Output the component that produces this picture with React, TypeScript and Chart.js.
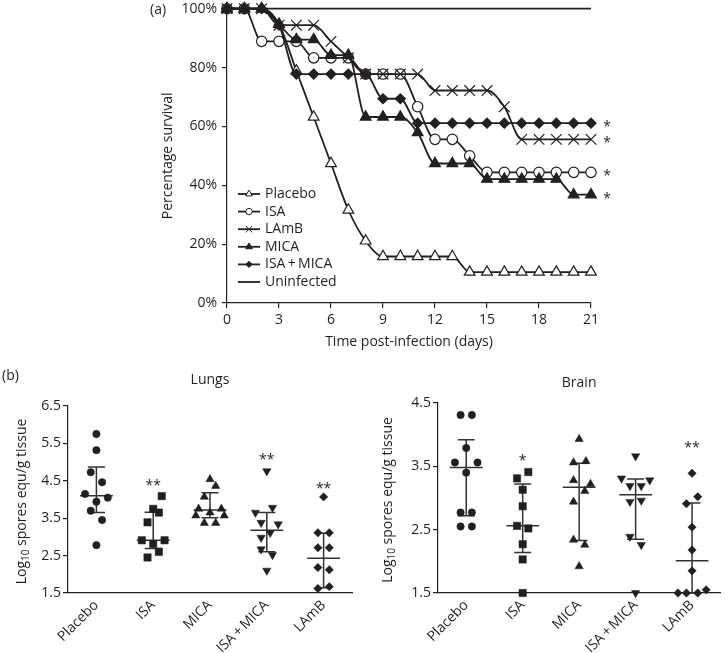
import React, { useEffect, useRef } from 'react';
import { Chart, registerables } from 'chart.js';

Chart.register(...registerables);

const FONT = '"Open Sans", "Noto Sans", sans-serif';
const INK = '#231f20';

// ---------------- (a) survival ----------------
const days = [0, 1, 2, 3, 4, 5, 6, 7, 8, 9, 10, 11, 12, 13, 14, 15, 16, 17, 18, 19, 20, 21];
const dayTicks = [0, 3, 6, 9, 12, 15, 18, 21];
const percentTicks = [0, 20, 40, 60, 80, 100];
const placeboSurvival = [100, 100, 100, 94.7, 78.9, 63.2, 47.4, 31.6, 21.1, 15.8, 15.8, 15.8, 15.8, 15.8, 10.5, 10.5, 10.5, 10.5, 10.5, 10.5, 10.5, 10.5];
const isaSurvival = [100, 100, 88.9, 88.9, 88.9, 83.3, 83.3, 83.3, 77.8, 77.8, 77.8, 66.7, 55.6, 55.6, 50, 44.4, 44.4, 44.4, 44.4, 44.4, 44.4, 44.4];
const lambSurvival = [100, 100, 100, 94.4, 94.4, 94.4, 88.9, 83.3, 77.8, 77.8, 77.8, 77.8, 72.2, 72.2, 72.2, 72.2, 66.7, 55.6, 55.6, 55.6, 55.6, 55.6];
const micaSurvival = [100, 100, 100, 94.7, 89.5, 89.5, 84.2, 84.2, 63.2, 63.2, 63.2, 57.9, 47.4, 47.4, 47.4, 42.1, 42.1, 42.1, 42.1, 42.1, 36.8, 36.8];
const isaMicaSurvival = [100, 100, 100, 94.4, 77.8, 77.8, 77.8, 77.8, 77.8, 69.4, 69.4, 61.1, 61.1, 61.1, 61.1, 61.1, 61.1, 61.1, 61.1, 61.1, 61.1, 61.1];
const uninfectedSurvival = [100, 100, 100, 100, 100, 100, 100, 100, 100, 100, 100, 100, 100, 100, 100, 100, 100, 100, 100, 100, 100, 100];
const survivalLabels = ['Placebo', 'ISA', 'LAmB', 'MICA', 'ISA\u2009+\u2009MICA', 'Uninfected'];
const survivalSignificance = ['', '*', '*', '*', '*', ''];

// ---------------- (b) lungs / brain ----------------
const categories = ['Placebo', 'ISA', 'MICA', 'ISA\u2009+\u2009MICA', 'LAmB'];
const lungsTicks = [1.5, 2.5, 3.5, 4.5, 5.5, 6.5];
const brainTicks = [1.5, 2.5, 3.5, 4.5];

const lungsPlacebo = [5.75, 5.32, 4.73, 4.46, 4.15, 3.94, 4.05, 3.70, 3.45, 2.78];
const lungsPlaceboJitter = [0, 0, -0.1, 0.1, -0.2, 0, 0.2, -0.1, 0.1, 0];
const lungsIsa = [4.09, 3.75, 3.65, 3.39, 2.91, 2.81, 2.91, 2.60, 2.45];
const lungsIsaJitter = [0.15, 0, 0.1, -0.1, -0.2, 0, 0.2, 0.1, -0.1];
const lungsMica = [4.54, 4.36, 4.07, 3.75, 3.65, 3.75, 3.57, 3.57, 3.37, 3.37];
const lungsMicaJitter = [0, 0.1, -0.1, -0.2, 0, 0.2, 0.25, -0.25, -0.1, 0.1];
const lungsIsaMica = [4.76, 3.65, 3.78, 3.38, 3.34, 3.11, 2.98, 2.67, 2.52, 2.10];
const lungsIsaMicaJitter = [0, -0.2, 0.1, -0.1, 0.2, 0.06, -0.1, -0.1, 0.1, 0];
const lungsLamb = [4.07, 3.11, 3.11, 2.71, 2.71, 2.18, 2.12, 1.62, 1.67];
const lungsLambJitter = [0, -0.1, 0.1, -0.1, 0.1, -0.1, 0.1, -0.1, 0.1];
const lungsMedian = [4.10, 2.91, 3.72, 3.18, 2.43];
const lungsUpper = [4.87, 3.66, 4.18, 3.65, 3.10];
const lungsLower = [3.65, 2.69, 3.51, 2.60, 1.64];
const lungsStars = ['', '**', '', '**', '**'];
const lungsStarLevel = [0, 4.48, 0, 5.16, 4.38];

const brainPlacebo = [4.31, 4.31, 3.79, 3.56, 3.56, 3.40, 2.77, 2.77, 2.55, 2.55];
const brainPlaceboJitter = [-0.1, 0.1, 0, -0.2, 0.2, 0, -0.1, 0.1, -0.1, 0.1];
const brainIsa = [3.41, 3.31, 3.13, 2.87, 2.56, 2.52, 2.27, 2.03, 1.50];
const brainIsaJitter = [0.1, -0.1, 0, 0, -0.1, 0.1, 0, 0, 0];
const brainMica = [3.93, 3.56, 3.58, 3.28, 3.22, 3.11, 2.94, 2.34, 2.26, 1.92];
const brainMicaJitter = [0, -0.1, 0.12, -0.1, 0.2, 0.1, -0.1, -0.1, 0.1, 0];
const brainIsaMica = [3.66, 3.31, 3.28, 3.19, 3.19, 2.94, 2.96, 2.39, 2.26, 1.50];
const brainIsaMicaJitter = [0, -0.25, 0.25, -0.1, 0.1, -0.1, 0.1, -0.1, 0.1, 0];
const brainLamb = [3.39, 3.02, 2.91, 2.54, 2.18, 1.85, 1.50, 1.50, 1.50, 1.55];
const brainLambJitter = [0, 0.1, -0.1, 0, 0, 0, -0.25, -0.1, 0.1, 0.25];
const brainMedian = [3.48, 2.56, 3.17, 3.05, 2.01];
const brainUpper = [3.92, 3.22, 3.55, 3.30, 2.92];
const brainLower = [2.72, 2.14, 2.33, 2.35, 1.50];
const brainStars = ['', '*', '', '', '**'];
const brainStarLevel = [0, 3.64, 0, 0, 3.85];

// ---------------- styles ----------------
const survivalStyles = [
  { shape: 'triangle', r: 6.2, fill: '#fff', order: 5 },
  { shape: 'circle', r: 5.2, fill: '#fff', order: 4 },
  { shape: 'crossRot', r: 7.5, fill: INK, order: 3 },
  { shape: 'triangle', r: 6.2, fill: INK, order: 2 },
  { shape: 'rectRot', r: 5, fill: INK, order: 1 },
  { shape: 'none', r: 0, fill: INK, order: 6 },
];
const groupShapes = ['circle', 'rect', 'triangle', 'triangle', 'rectRot'];
const groupRotations = [0, 0, 0, 180, 0];
const groupRadii = [3.7, 5.2, 4.8, 4.8, 4.2];

function drawMarker(ctx: CanvasRenderingContext2D, shape: string, x: number, y: number, r: number, fill: string, lw: number) {
  if (shape === 'none') return;
  ctx.save();
  ctx.translate(x, y);
  ctx.beginPath();
  if (shape === 'circle') ctx.arc(0, 0, r, 0, Math.PI * 2);
  else if (shape === 'triangle') {
    ctx.moveTo(0, -r); ctx.lineTo(r * 0.866, r * 0.5); ctx.lineTo(-r * 0.866, r * 0.5); ctx.closePath();
  } else if (shape === 'rectRot') {
    ctx.moveTo(0, -r); ctx.lineTo(r, 0); ctx.lineTo(0, r); ctx.lineTo(-r, 0); ctx.closePath();
  } else if (shape === 'crossRot') {
    const d = r * 0.7071;
    ctx.moveTo(-d, -d); ctx.lineTo(d, d); ctx.moveTo(d, -d); ctx.lineTo(-d, d);
  }
  if (shape !== 'crossRot') { ctx.fillStyle = fill; ctx.fill(); }
  ctx.lineWidth = lw; ctx.strokeStyle = INK; ctx.stroke();
  ctx.restore();
}

function fixedTicks(values: number[]) {
  return (s: any) => { s.ticks = values.map((v) => ({ value: v })); };
}

// ---------------- survival chart config ----------------
function survivalConfig(): any {
  const series = [placeboSurvival, isaSurvival, lambSurvival, micaSurvival, isaMicaSurvival, uninfectedSurvival];
  const datasets = series.map((arr, i) => {
    const st = survivalStyles[i];
    return {
      label: survivalLabels[i],
      data: days.map((d, k) => ({ x: d, y: arr[k] })),
      borderColor: INK,
      borderWidth: 1.8,
      fill: false,
      cubicInterpolationMode: 'monotone',
      pointStyle: st.shape === 'none' ? 'circle' : st.shape,
      pointRadius: st.r,
      pointBackgroundColor: st.fill,
      pointBorderColor: INK,
      pointBorderWidth: 1.2,
      order: st.order,
      clip: false,
    };
  });
  const decor = {
    id: 'survivalDecor',
    afterDraw(chart: any) {
      const { ctx, scales: { x, y }, chartArea } = chart;
      ctx.save();
      ctx.fillStyle = INK;
      ctx.font = `14px ${FONT}`;
      // axis titles
      ctx.textAlign = 'center';
      ctx.textBaseline = 'middle';
      ctx.fillText('Time post-infection (days)', (chartArea.left + chartArea.right) / 2, 342);
      ctx.save();
      ctx.translate(28, (chartArea.top + chartArea.bottom) / 2);
      ctx.rotate(-Math.PI / 2);
      ctx.fillText('Percentage survival', 0, 0);
      ctx.restore();
      // significance marks at day 21
      const lastX = x.getPixelForValue(days[days.length - 1]) + 16;
      series.forEach((arr, i) => {
        if (!survivalSignificance[i]) return;
        ctx.fillText(survivalSignificance[i], lastX, y.getPixelForValue(arr[arr.length - 1]) + 4);
      });
      // legend
      ctx.textAlign = 'left';
      survivalLabels.forEach((lab, i) => {
        const st = survivalStyles[i];
        const ly = 194 + i * 17.6;
        ctx.beginPath();
        ctx.moveTo(98, ly); ctx.lineTo(120, ly);
        ctx.lineWidth = 1.8; ctx.strokeStyle = INK; ctx.stroke();
        drawMarker(ctx, st.shape, 109, ly, st.r * 0.62, st.fill, 1);
        ctx.fillStyle = INK;
        ctx.fillText(lab, 125, ly);
      });
      ctx.restore();
    },
  };
  return {
    type: 'line',
    data: { datasets },
    plugins: [decor],
    options: {
      responsive: false,
      animation: false,
      events: [],
      layout: { padding: { left: 0, top: 7, right: 39, bottom: 0 } },
      plugins: { legend: { display: false }, tooltip: { enabled: false } },
      scales: {
        x: {
          type: 'linear', min: 0, max: 21,
          afterBuildTicks: fixedTicks(dayTicks),
          afterFit: (s: any) => { s.height = 57; s.paddingLeft = 0; s.paddingRight = 0; },
          ticks: { font: { family: FONT, size: 14 }, color: INK, padding: 4, maxRotation: 0, autoSkip: false },
          grid: { display: true, drawOnChartArea: false, drawTicks: true, tickLength: 5, color: INK, lineWidth: 1.2 },
          border: { display: true, color: INK, width: 1.2 },
        },
        y: {
          type: 'linear', min: 0, max: 100,
          afterBuildTicks: fixedTicks(percentTicks),
          afterFit: (s: any) => { s.width = 87; s.paddingTop = 0; s.paddingBottom = 0; },
          ticks: { font: { family: FONT, size: 14 }, color: INK, padding: 5, autoSkip: false, callback: (v: number) => `${v}%` },
          grid: { display: true, drawOnChartArea: false, drawTicks: true, tickLength: 5, color: INK, lineWidth: 1.2 },
          border: { display: true, color: INK, width: 1.2 },
        },
      },
    },
  };
}

// ---------------- scatter panel config ----------------
function panelConfig(p: any): any {
  const datasets = p.groups.map((vals: number[], i: number) => ({
    label: categories[i],
    data: vals.map((v, k) => ({ x: i + p.jitters[i][k], y: v })),
    showLine: false,
    pointStyle: groupShapes[i],
    pointRotation: groupRotations[i],
    pointRadius: groupRadii[i],
    pointBackgroundColor: INK,
    pointBorderColor: INK,
    pointBorderWidth: 0.5,
    clip: false,
  }));
  const decor = {
    id: 'panelDecor',
    beforeDatasetsDraw(chart: any) {
      const { ctx, scales: { x, y } } = chart;
      const unit = x.getPixelForValue(1) - x.getPixelForValue(0);
      ctx.save();
      ctx.strokeStyle = '#333';
      ctx.lineWidth = 1.5;
      categories.forEach((_, i) => {
        const cx = x.getPixelForValue(i);
        const yu = y.getPixelForValue(p.upper[i]);
        const yl = y.getPixelForValue(p.lower[i]);
        const ym = y.getPixelForValue(p.median[i]);
        const cap = 0.15 * unit;
        const med = 0.29 * unit;
        ctx.beginPath();
        ctx.moveTo(cx, yu); ctx.lineTo(cx, yl);
        ctx.moveTo(cx - cap, yu); ctx.lineTo(cx + cap, yu);
        ctx.moveTo(cx - cap, yl); ctx.lineTo(cx + cap, yl);
        ctx.moveTo(cx - med, ym); ctx.lineTo(cx + med, ym);
        ctx.stroke();
      });
      ctx.restore();
    },
    afterDraw(chart: any) {
      const { ctx, scales: { x, y }, chartArea } = chart;
      ctx.save();
      ctx.fillStyle = INK;
      ctx.textAlign = 'center';
      ctx.textBaseline = 'middle';
      ctx.font = `14px ${FONT}`;
      ctx.fillText(p.title, (chartArea.left + chartArea.right) / 2, p.titleY);
      p.stars.forEach((s: string, i: number) => {
        if (!s) return;
        ctx.fillText(s, x.getPixelForValue(i), y.getPixelForValue(p.starLevel[i]) + 4);
      });
      // y title with subscript
      ctx.save();
      ctx.translate(22, (chartArea.top + chartArea.bottom) / 2 + 2);
      ctx.rotate(-Math.PI / 2);
      const parts: [string, string, number][] = [
        ['Log', `14px ${FONT}`, 0],
        ['10', `10px ${FONT}`, 4],
        [' spores equ/g tissue', `14px ${FONT}`, 0],
      ];
      let total = 0;
      parts.forEach(([t, f]) => { ctx.font = f; total += ctx.measureText(t).width; });
      let px = -total / 2;
      ctx.textAlign = 'left';
      parts.forEach(([t, f, dy]) => {
        ctx.font = f;
        ctx.fillText(t, px, dy);
        px += ctx.measureText(t).width;
      });
      ctx.restore();
      ctx.restore();
    },
  };
  return {
    type: 'scatter',
    data: { datasets },
    plugins: [decor],
    options: {
      responsive: false,
      animation: false,
      events: [],
      layout: { padding: p.padding },
      plugins: { legend: { display: false }, tooltip: { enabled: false } },
      scales: {
        x: {
          type: 'linear', min: -0.5, max: 4.5,
          afterBuildTicks: fixedTicks([0, 1, 2, 3, 4]),
          afterFit: (s: any) => { s.height = 60; s.paddingLeft = 0; s.paddingRight = 0; },
          ticks: {
            font: { family: FONT, size: 14 }, color: INK, padding: 4, autoSkip: false,
            minRotation: 45, maxRotation: 45,
            callback: (_v: number, idx: number) => categories[idx],
          },
          grid: { display: false, drawTicks: false },
          border: { display: true, color: INK, width: 1.2 },
        },
        y: {
          type: 'linear', min: p.ticks[0], max: p.ticks[p.ticks.length - 1],
          afterBuildTicks: fixedTicks(p.ticks),
          afterFit: (s: any) => { s.width = p.axisWidth; s.paddingTop = 0; s.paddingBottom = 0; },
          ticks: { font: { family: FONT, size: 14 }, color: INK, padding: 2, autoSkip: false, callback: (v: number) => v.toFixed(1) },
          grid: { display: true, drawOnChartArea: false, drawTicks: true, tickLength: 5, color: INK, lineWidth: 1.2 },
          border: { display: true, color: INK, width: 1.2 },
        },
      },
    },
  };
}

function ChartCanvas({ make, left, top, width, height }: any) {
  const ref = useRef<HTMLCanvasElement | null>(null);
  useEffect(() => {
    const chart = new Chart(ref.current as HTMLCanvasElement, make());
    return () => chart.destroy();
  }, []);
  return (
    <canvas ref={ref} width={width} height={height}
      style={{ position: 'absolute', left, top, width, height }} />
  );
}

export default function App() {
  const lungs = () => panelConfig({
    title: 'Lungs', titleY: 20,
    groups: [lungsPlacebo, lungsIsa, lungsMica, lungsIsaMica, lungsLamb],
    jitters: [lungsPlaceboJitter, lungsIsaJitter, lungsMicaJitter, lungsIsaMicaJitter, lungsLambJitter],
    median: lungsMedian, upper: lungsUpper, lower: lungsLower,
    stars: lungsStars, starLevel: lungsStarLevel,
    ticks: lungsTicks, axisWidth: 68,
    padding: { left: 0, top: 46, right: 8, bottom: 0 },
  });
  const brain = () => panelConfig({
    title: 'Brain', titleY: 23,
    groups: [brainPlacebo, brainIsa, brainMica, brainIsaMica, brainLamb],
    jitters: [brainPlaceboJitter, brainIsaJitter, brainMicaJitter, brainIsaMicaJitter, brainLambJitter],
    median: brainMedian, upper: brainUpper, lower: brainLower,
    stars: brainStars, starLevel: brainStarLevel,
    ticks: brainTicks, axisWidth: 72,
    padding: { left: 0, top: 43, right: 1.4, bottom: 0 },
  });
  const label: any = { position: 'absolute', font: `14px ${FONT}`, lineHeight: '16px', color: INK };
  return (
    <div style={{ position: 'absolute', left: 0, top: 0, width: 726, height: 653, background: '#fff', overflow: 'hidden' }}>
      <ChartCanvas make={survivalConfig} left={140} top={0} width={490} height={360} />
      <ChartCanvas make={lungs} left={0} top={360} width={360} height={293} />
      <ChartCanvas make={brain} left={366} top={360} width={360} height={293} />
      <span style={{ ...label, left: 150, top: 1 }}>(a)</span>
      <span style={{ ...label, left: 2, top: 367 }}>(b)</span>
    </div>
  );
}
